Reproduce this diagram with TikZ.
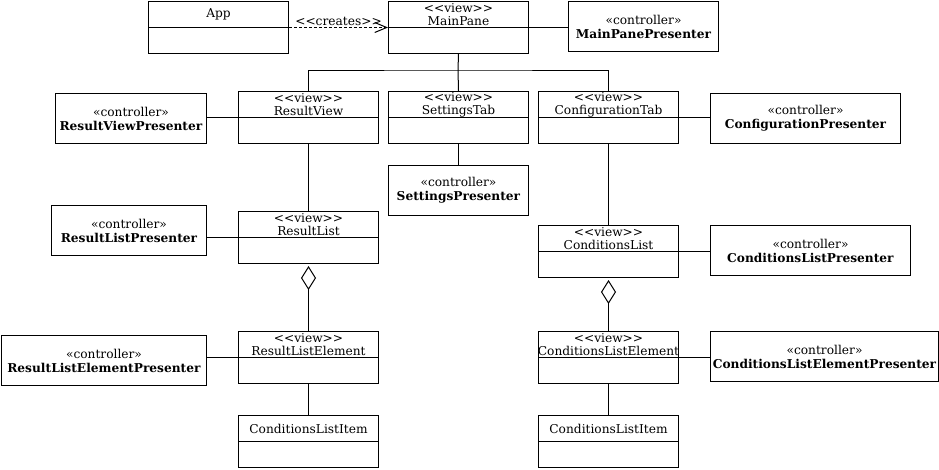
\documentclass[tikz,border=0pt]{standalone}
\usepackage{fontspec}
\setmainfont{DejaVu Serif}
\usetikzlibrary{arrows.meta,calc}
\newcommand\umlcls[4]{%
  \node[cls] (#1) at (#2,#3) {};
  \draw[boxline] (#1.west) -- (#1.east);
  \node[ctext] (#1-t) at ($(#1.north)+(0,13.5)$) {#4};
}
\newcommand\vw{<{}<view>{}>}
\begin{document}
\begin{tikzpicture}[x=1pt,y=-1pt,
  boxline/.style={line width=1pt, draw=black},
  cls/.style={boxline, minimum width=140pt, minimum height=52pt, inner sep=0pt, anchor=north west},
  ctext/.style={inner sep=0pt, align=center, font=\fontsize{12.2}{12.8}\selectfont},
  pres/.style={boxline, minimum height=50pt, inner sep=0pt, anchor=north west, align=center, font=\fontsize{12.2}{14}\selectfont},
  conn/.style={line width=1pt, draw=black},
  agg/.style={conn, -{Diamond[open, length=24pt, width=15pt, line width=1pt]}},
  dep/.style={conn, dashed, dash pattern=on 3pt off 2pt, -{Straight Barb[length=12pt, width=10pt, line width=1pt]}}
]
\useasboundingbox (0,0) rectangle (939,469);

% class boxes
\umlcls{app}{148}{1}{App}
\umlcls{mp}{388}{1}{\vw\\MainPane}
\umlcls{rv}{238}{91}{\vw\\ResultView}
\umlcls{st}{388}{91}{\vw\\SettingsTab}
\umlcls{ct}{538}{91}{\vw\\ConfigurationTab}
\umlcls{rl}{238}{211}{\vw\\ResultList}
\umlcls{cl}{538}{225}{\vw\\ConditionsList}
\umlcls{rle}{238}{331}{\vw\\ResultListElement}
\umlcls{cle}{538}{331}{\vw\\ConditionsListElement}
\umlcls{rli}{238}{415}{ConditionsListItem}
\umlcls{cli}{538}{415}{ConditionsListItem}

% presenters
\node[pres, minimum width=150pt] (mpp) at (568,1) {«controller»\\\textbf{MainPanePresenter}};
\node[pres, minimum width=151pt] (rvp) at (55,93) {«controller»\\\textbf{ResultViewPresenter}};
\node[pres, minimum width=190pt] (cp) at (710,93) {«controller»\\\textbf{ConfigurationPresenter}};
\node[pres, minimum width=140pt] (sp) at (388,165) {«controller»\\\textbf{SettingsPresenter}};
\node[pres, minimum width=155pt] (rlp) at (51,205) {«controller»\\\textbf{ResultListPresenter}};
\node[pres, minimum width=200pt] (clp) at (710,225) {«controller»\\\textbf{ConditionsListPresenter}};
\node[pres, minimum width=205pt] (rlep) at (1,335) {«controller»\\\textbf{ResultListElementPresenter}};
\node[pres, minimum width=228pt] (clep) at (710,331) {«controller»\\\textbf{ConditionsListElementPresenter}};

% creates dependency
\draw[dep] (app.east) -- node[above, inner sep=1pt, font=\fontsize{12.2}{13}\selectfont] (crl) {<{}<creates>{}>} (mp.west);

% main pane tree
\coordinate (j) at (458,70);
\draw[conn] (mp.south) -- (j);
\draw[conn] (rv.north) |- (j) -| (ct.north);
\draw[conn] (j) -- (st.north);

% view to presenter
\draw[conn] (mp.east) -- (mp.east -| mpp.west);
\draw[conn] (rv.west) -- (rv.west -| rvp.east);
\draw[conn] (ct.east) -- (ct.east -| cp.west);
\draw[conn] (st.south) -- (sp.north);
\draw[conn] (rl.west) -- (rl.west -| rlp.east);
\draw[conn] (cl.east) -- (cl.east -| clp.west);
\draw[conn] (rle.west) -- (rle.west -| rlep.east);
\draw[conn] (cle.east) -- (cle.east -| clep.west);

% vertical structure
\draw[conn] (rv.south) -- (rl.north);
\draw[conn] (ct.south) -- (cl.north);
\draw[agg] (rle.north) -- ($(rl.south)+(0,2)$);
\draw[agg] (cle.north) -- ($(cl.south)+(0,2)$);
\draw[conn] (rle.south) -- (rli.north);
\draw[conn] (cle.south) -- (cli.north);
\end{tikzpicture}
\end{document}
